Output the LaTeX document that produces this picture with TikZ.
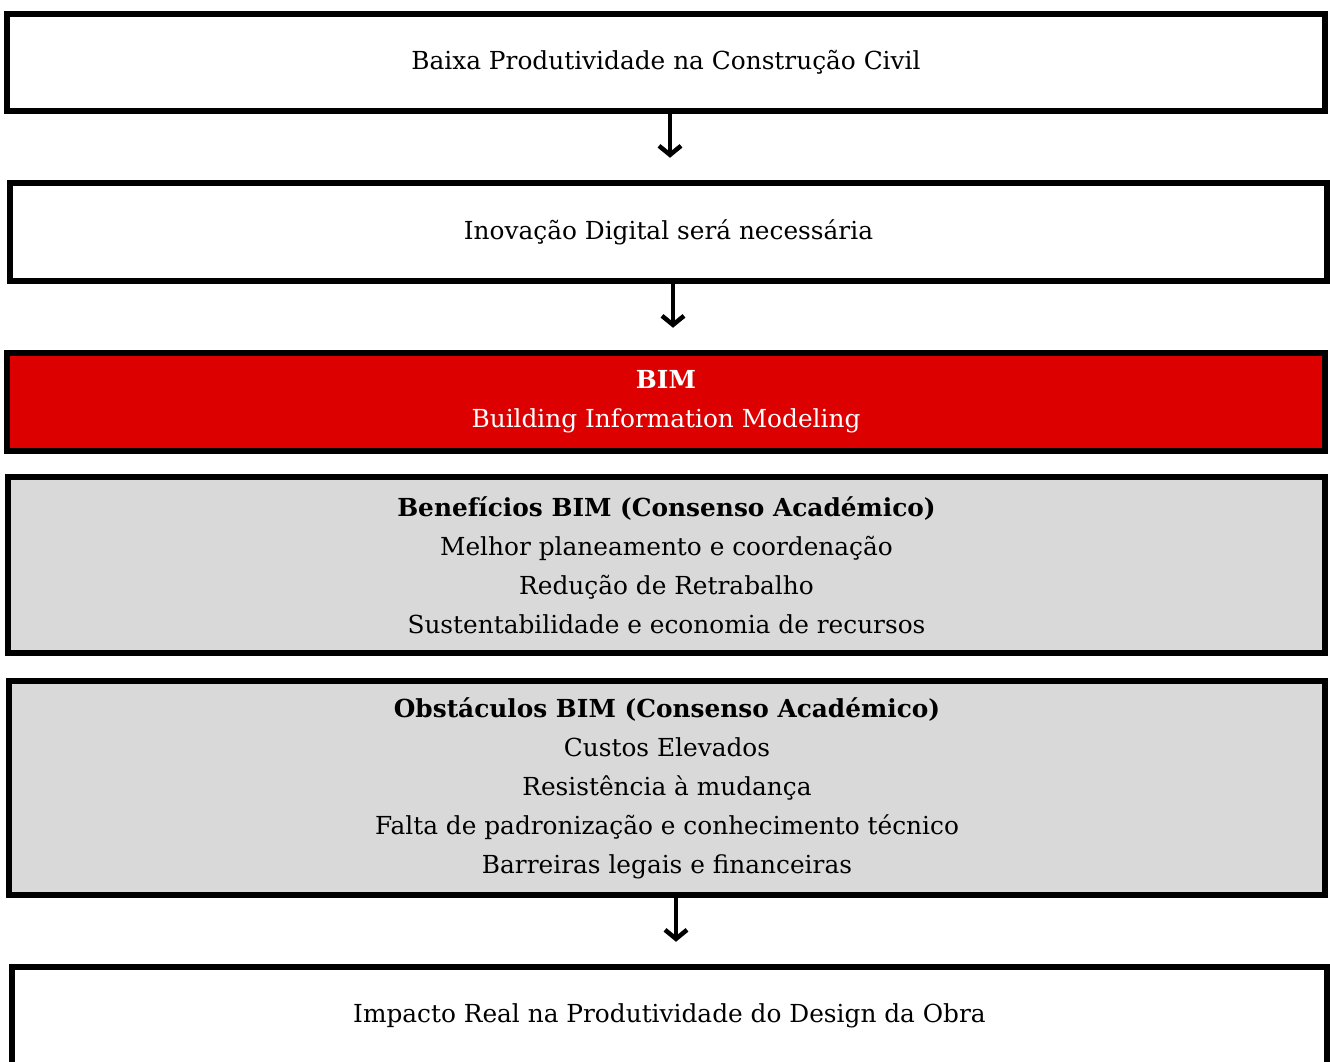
\documentclass[tikz,border=0pt]{standalone}
\usepackage{fontspec}
\setmainfont{DejaVu Serif}
\usetikzlibrary{arrows.meta}
\definecolor{bimred}{HTML}{DD0000}
\definecolor{boxgrey}{HTML}{D9D9D9}
\tikzset{
  flowbox/.style={draw=black, line width=6.5pt, rectangle, inner sep=0pt, align=center,
    font=\fontsize{24.8}{39}\selectfont},
  arr/.style={line width=4.5pt, -{Straight Barb[length=9pt,width=22pt,line width=4.5pt]}},
}
\begin{document}
\begin{tikzpicture}[x=1pt,y=-1pt]
\useasboundingbox (0,0) rectangle (1330,1062);
\clip (0,0) rectangle (1330,1062);
\fill[white] (0,0) rectangle (1330,1062);
\node[flowbox, fill=white, minimum width=1318pt, minimum height=97pt] (b1) at (666,62.5)
  {\raisebox{-2pt}{Baixa Produtividade na Construção Civil}};
\node[flowbox, fill=white, minimum width=1317pt, minimum height=98pt] (b2) at (668.5,232)
  {Inovação Digital será necessária};
\node[flowbox, fill=bimred, text=white, minimum width=1318pt, minimum height=98pt] (b3) at (666,402)
  {\textbf{BIM}\\Building Information Modeling};
\node[flowbox, fill=boxgrey, minimum width=1317pt, minimum height=176pt] (b4) at (666.5,565)
  {\textbf{Benefícios BIM (Consenso Académico)}\\Melhor planeamento e coordenação\\Redução de Retrabalho\\Sustentabilidade e economia de recursos};
\node[flowbox, fill=boxgrey, minimum width=1316pt, minimum height=214pt] (b5) at (667,788)
  {\textbf{Obstáculos BIM (Consenso Académico)}\\Custos Elevados\\Resistência à mudança\\Falta de padronização e conhecimento técnico\\Barreiras legais e financeiras};
\node[flowbox, fill=white, minimum width=1315pt, minimum height=112pt] (b6) at (669.5,1023)
  {};
\node[font=\fontsize{24.8}{39}\selectfont] (b6t) at (669.5,1016) {Impacto Real na Produtividade do Design da Obra};
\draw[arr, shorten >=22pt] ([xshift=4pt]b1.south) -- ([xshift=4pt]b1.south |- b2.north);
\draw[arr, shorten >=22pt] ([xshift=4.5pt]b2.south) -- ([xshift=4.5pt]b2.south |- b3.north);
\draw[arr, shorten >=22pt] ([xshift=9pt]b5.south) -- ([xshift=9pt]b5.south |- b6.north);
\end{tikzpicture}
\end{document}
